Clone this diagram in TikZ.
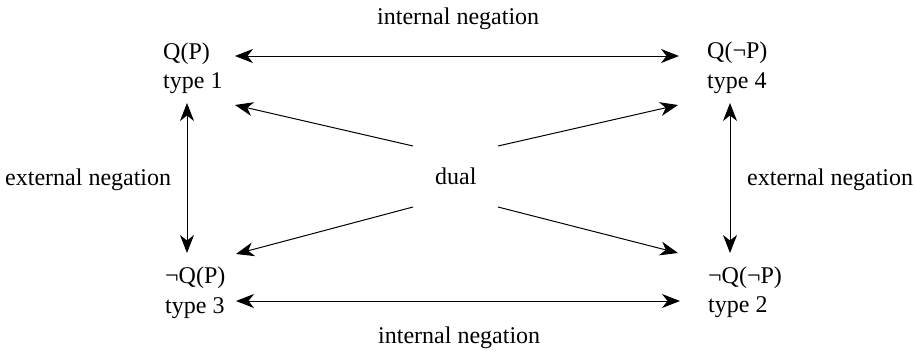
\documentclass[tikz,border=0pt]{standalone}
\usepackage{fontspec}
\setmainfont{Liberation Serif}
\usetikzlibrary{arrows.meta}
\begin{document}
\begin{tikzpicture}[x=1pt,y=-1pt,
  lbl/.style={inner sep=0pt,anchor=base west,font=\fontsize{24}{28}\selectfont},
  link/.style={line width=1pt,{Stealth[length=18pt,width=14pt,inset=5.5pt]}-{Stealth[length=18pt,width=14pt,inset=5.5pt]}},
  tip/.style={line width=1pt,-{Stealth[length=18pt,width=14pt,inset=5.5pt]}}]
\useasboundingbox (0,0) rectangle (915,351);
% corner formulas and their types
\node[lbl] (q1) at (163,59) {Q(P)};
\node[lbl] (t1) at (163,88) {type 1};
\node[lbl] (q4) at (707,58) {Q(¬P)};
\node[lbl] (t4) at (707,88) {type 4};
\node[lbl] (q3) at (165,283) {¬Q(P)};
\node[lbl] (t3) at (165,313) {type 3};
\node[lbl] (q2) at (708,283) {¬Q(¬P)};
\node[lbl] (t2) at (708,312) {type 2};
\node[lbl] (dual) at (435,184) {dual};
% relation labels
\node[lbl] (intTop) at (377,24) {internal negation};
\node[lbl] (intBot) at (378,343) {internal negation};
\node[lbl] (extL) at (5,185) {external negation};
\node[lbl] (extR) at (747,185) {external negation};
% arrow end points
\coordinate (a1) at (235,56);   \coordinate (a4) at (679,56);
\coordinate (b3) at (236,301);  \coordinate (b2) at (680,301);
\coordinate (v1) at (187,103);  \coordinate (v3) at (187,253);
\coordinate (w4) at (730,103);  \coordinate (w2) at (730,253);
\coordinate (d1) at (235,105);  \coordinate (d4) at (678,105);
\coordinate (d3) at (236,254);  \coordinate (d2) at (678,253);
\coordinate (s1) at (413,146);  \coordinate (s4) at (498,146);
\coordinate (s3) at (413,207);  \coordinate (s2) at (498,207);
% internal and external negation
\draw[link] (a1) -- (a4);
\draw[link] (b3) -- (b2);
\draw[link] (v1) -- (v3);
\draw[link] (w4) -- (w2);
% duality
\draw[tip] (s1) -- (d1);
\draw[tip] (s4) -- (d4);
\draw[tip] (s3) -- (d3);
\draw[tip] (s2) -- (d2);
\end{tikzpicture}
\end{document}
